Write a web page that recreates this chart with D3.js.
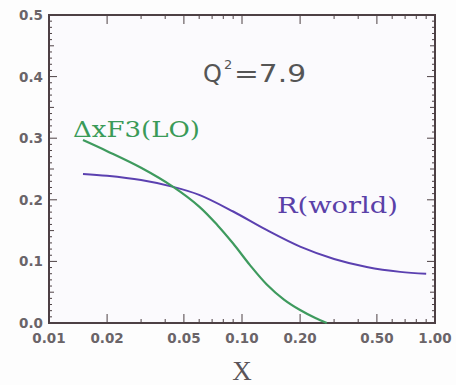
<!DOCTYPE html>
<html><head><meta charset="utf-8">
<script src="https://cdn.jsdelivr.net/npm/d3@7"></script>
<style>body{margin:0;background:#fdfdfd;}svg{display:block;}</style>
</head><body>
<script>
const xTickLabels = ["0.01","0.02","0.05","0.10","0.20","0.50","1.00"];
const xTickValues = [0.01,0.02,0.05,0.1,0.2,0.5,1.0];
const yTickValues = [0.0,0.1,0.2,0.3,0.4,0.5];
const greenX = [0.015,0.02,0.03,0.044,0.06,0.075,0.09,0.11,0.134,0.165,0.2,0.24,0.275];
const greenY = [0.297,0.279,0.252,0.221,0.189,0.158,0.129,0.094,0.063,0.038,0.021,0.008,0.0];
const purpleX = [0.015,0.02,0.03,0.044,0.06,0.09,0.134,0.2,0.3,0.443,0.66,0.9];
const purpleY = [0.242,0.239,0.232,0.221,0.208,0.181,0.151,0.124,0.104,0.091,0.083,0.080];

const W=456,H=385;
const L=49,R=435,T=15,B=323;
const svg=d3.select("body").append("svg").attr("width",W).attr("height",H);
svg.append("rect").attr("x",L).attr("y",T).attr("width",R-L).attr("height",B-T).attr("fill","#fbfafd");
const x=d3.scaleLog().domain([0.01,1]).range([L,R]);
const y=d3.scaleLinear().domain([0,0.5]).range([B,T]);
const axCol="#4d4044";

const xMinor=[];
for(let d=0.01;d<1;d*=10){for(let k=1;k<10;k++){xMinor.push(+(k*d).toFixed(4));}}
xMinor.push(1);
const g=svg.append("g");
xMinor.forEach(v=>{
  const major=xTickValues.some(t=>Math.abs(t-v)<1e-9);
  const len=major?9:4;
  g.append("line").attr("x1",x(v)).attr("x2",x(v)).attr("y1",B).attr("y2",B-len).attr("stroke",axCol).attr("stroke-width",1);
  g.append("line").attr("x1",x(v)).attr("x2",x(v)).attr("y1",T).attr("y2",T+len).attr("stroke",axCol).attr("stroke-width",1);
});
for(let i=0;i<=50;i++){
  const v=i/100;
  const len=(i%10===0)?8:((i%5===0)?5:3);
  g.append("line").attr("x1",L).attr("x2",L+len).attr("y1",y(v)).attr("y2",y(v)).attr("stroke",axCol).attr("stroke-width",1);
  g.append("line").attr("x1",R).attr("x2",R-len).attr("y1",y(v)).attr("y2",y(v)).attr("stroke",axCol).attr("stroke-width",1);
}
svg.append("rect").attr("x",L).attr("y",T).attr("width",R-L).attr("height",B-T).attr("fill","none").attr("stroke",axCol).attr("stroke-width",2);

const lblFont="'DejaVu Sans',sans-serif";
xTickValues.forEach((v,i)=>{
  svg.append("text").attr("x",x(v)).attr("y",343).attr("text-anchor","middle")
    .attr("font-family",lblFont).attr("font-weight","bold").attr("font-size",13.5).attr("fill","#6a6468").text(xTickLabels[i]);
});
yTickValues.forEach(v=>{
  svg.append("text").attr("x",43).attr("y",y(v)+5).attr("text-anchor","end")
    .attr("font-family",lblFont).attr("font-weight","bold").attr("font-size",13.5).attr("fill","#6a6468").text(v.toFixed(1));
});
svg.append("text").attr("x",242).attr("y",380).attr("text-anchor","middle")
  .attr("font-family","'Liberation Serif',serif").attr("font-size",27).attr("fill","#5a5458").text("X");

const line=d3.line().x(d=>x(d[0])).y(d=>y(d[1])).curve(d3.curveCatmullRom.alpha(0.5));
svg.append("path").datum(purpleX.map((v,i)=>[v,purpleY[i]])).attr("d",line).attr("fill","none").attr("stroke","#5b40b0").attr("stroke-width",2);
svg.append("path").datum(greenX.map((v,i)=>[v,greenY[i]])).attr("d",line).attr("fill","none").attr("stroke","#3e9a5e").attr("stroke-width",2.2);

const lf="'DejaVu Serif',serif";
svg.append("text").attr("x",73).attr("y",137).attr("font-family",lf).attr("font-size",22)
  .attr("fill","#3a9a58").attr("textLength",127).attr("lengthAdjust","spacingAndGlyphs").text("ΔxF3(LO)");
svg.append("text").attr("x",277).attr("y",213).attr("font-family",lf).attr("font-size",22)
  .attr("fill","#5a40a8").attr("textLength",121).attr("lengthAdjust","spacingAndGlyphs").text("R(world)");
const qf="'DejaVu Sans',sans-serif";
svg.append("text").attr("x",203).attr("y",82).attr("font-family",qf).attr("font-size",24).attr("fill","#555").text("Q");
svg.append("text").attr("x",224).attr("y",69).attr("font-family",qf).attr("font-size",13).attr("fill","#555").text("2");
svg.append("text").attr("x",234).attr("y",82).attr("font-family",qf).attr("font-size",24).attr("fill","#555")
  .attr("textLength",72).attr("lengthAdjust","spacingAndGlyphs").text("=7.9");
</script>
</body></html>
